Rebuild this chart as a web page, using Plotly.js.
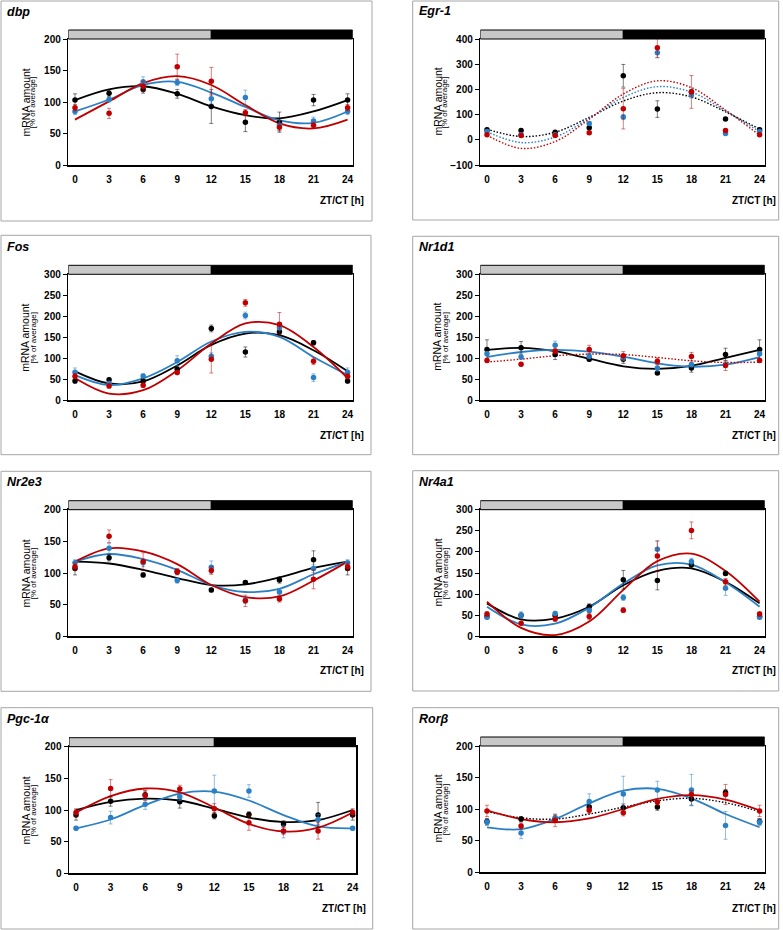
<!DOCTYPE html>
<html><head><meta charset="utf-8">
<script src="https://cdn.plot.ly/plotly-3.0.1.min.js"></script>
<style>html,body{margin:0;padding:0;background:#fff}#chart{width:783px;height:930px}</style>
</head><body><div id="chart"></div>
<script>
// ---------- DATA ----------
const hours = [0, 3, 6, 9, 12, 15, 18, 21, 24];
const hourLabels = ['0', '3', '6', '9', '12', '15', '18', '21', '24'];
const geneNames = ['dbp', 'Egr-1', 'Fos', 'Nr1d1', 'Nr2e3', 'Nr4a1', 'Pgc-1α', 'Rorβ'];

// dbp
const dbpBlack = [103, 114, 120, 113, 93, 68, 68, 103, 103];
const dbpBlackErr = [10, 5, 6, 7, 27, 15, 16, 9, 10];
const dbpBlackFit = [103, 120, 125, 113, 93, 79, 74, 85, 103];
const dbpBlue = [85, 104, 132, 131, 105, 107, 63, 70, 85];
const dbpBlueErr = [5, 4, 8, 5, 8, 12, 8, 6, 5];
const dbpBlueFit = [85, 104, 127, 132, 115, 92, 71, 67, 85];
const dbpRed = [91, 82, 125, 156, 133, 83, 60, 63, 91];
const dbpRedErr = [5, 8, 8, 20, 22, 5, 6, 4, 5];
const dbpRedFit = [72, 101, 130, 141, 127, 95, 66, 58, 72];

// Egr-1
const egrBlack = [40, 37, 30, 48, 254, 122, 190, 83, 40];
const egrBlackErr = [6, 5, 5, 6, 45, 33, 10, 5, 6];
const egrBlackFit = [42, 13, 30, 89, 154, 187, 170, 111, 42];
const egrBlue = [33, 20, 20, 65, 90, 345, 178, 25, 33];
const egrBlueErr = [5, 5, 5, 6, 10, 20, 12, 5, 5];
const egrBlueFit = [32, -11, 11, 85, 168, 211, 189, 115, 32];
const egrRed = [20, 17, 17, 28, 123, 365, 190, 37, 20];
const egrRedErr = [5, 5, 5, 5, 80, 38, 65, 6, 5];
const egrRedFit = [18, -34, -7, 82, 182, 234, 207, 118, 18];

// Fos
const fosBlack = [46, 49, 46, 74, 171, 115, 163, 137, 46];
const fosBlackErr = [5, 4, 5, 6, 8, 12, 6, 5, 5];
const fosBlackFit = [69, 40, 45, 83, 132, 159, 155, 119, 69];
const fosBlue = [67, 40, 58, 94, 105, 202, 173, 54, 67];
const fosBlueErr = [10, 5, 5, 12, 8, 8, 6, 9, 10];
const fosBlueFit = [60, 36, 52, 91, 140, 163, 151, 103, 60];
const fosRed = [57, 34, 36, 66, 98, 232, 181, 93, 57];
const fosRedErr = [6, 5, 5, 5, 33, 8, 28, 8, 6];
const fosRedFit = [53, 16, 24, 71, 135, 183, 179, 127, 53];

// Nr1d1
const nr1Black = [121, 125, 109, 98, 98, 65, 77, 109, 121];
const nr1BlackErr = [23, 15, 12, 5, 10, 3, 10, 15, 23];
const nr1BlackFit = [120, 125, 117, 99, 81, 75, 82, 101, 120];
const nr1Blue = [111, 103, 131, 105, 101, 77, 85, 85, 111];
const nr1BlueErr = [5, 5, 10, 6, 5, 8, 6, 6, 5];
const nr1BlueFit = [103, 115, 120, 116, 104, 88, 80, 85, 103];
const nr1Red = [95, 86, 117, 121, 106, 93, 104, 83, 95];
const nr1RedErr = [5, 4, 6, 10, 10, 8, 10, 12, 5];
const nr1RedFit = [91, 98, 106, 110, 109, 102, 94, 90, 91];

// Nr2e3
const nr2Black = [107, 124, 97, 102, 73, 85, 89, 121, 107];
const nr2BlackErr = [10, 5, 3, 4, 3, 3, 5, 14, 10];
const nr2BlackFit = [118, 115, 105, 92, 81, 82, 93, 108, 118];
const nr2Blue = [116, 139, 116, 88, 109, 57, 70, 107, 116];
const nr2BlueErr = [5, 8, 6, 4, 10, 5, 5, 6, 5];
const nr2BlueFit = [118, 130, 122, 105, 81, 70, 75, 98, 118];
const nr2Red = [110, 158, 118, 102, 104, 56, 59, 90, 110];
const nr2RedErr = [6, 10, 14, 5, 6, 9, 5, 15, 6];
const nr2RedFit = [118, 139, 134, 114, 81, 62, 63, 88, 118];

// Nr4a1
const nr4Black = [47, 50, 49, 70, 134, 132, 169, 149, 47];
const nr4BlackErr = [4, 5, 5, 7, 22, 22, 8, 5, 4];
const nr4BlackFit = [78, 40, 42, 70, 121, 155, 161, 129, 78];
const nr4Blue = [45, 50, 54, 61, 92, 206, 177, 114, 45];
const nr4BlueErr = [4, 8, 5, 6, 7, 20, 8, 17, 4];
const nr4BlueFit = [70, 28, 30, 68, 125, 168, 170, 128, 70];
const nr4Red = [53, 31, 41, 47, 62, 190, 251, 129, 53];
const nr4RedErr = [5, 4, 5, 8, 6, 36, 20, 8, 5];
const nr4RedFit = [82, 20, 3, 35, 110, 178, 196, 155, 82];

// Pgc-1a
const pgcBlack = [92, 114, 124, 113, 91, 93, 78, 92, 92];
const pgcBlackErr = [8, 8, 6, 10, 5, 4, 5, 20, 8];
const pgcBlackFit = [100, 113, 118, 115, 102, 88, 81, 84, 100];
const pgcBlue = [71, 88, 109, 121, 130, 130, 66, 85, 71];
const pgcBlueErr = [3, 10, 8, 6, 25, 10, 10, 8, 3];
const pgcBlueFit = [71, 85, 108, 126, 129, 115, 92, 74, 71];
const pgcRed = [96, 134, 123, 133, 102, 80, 67, 67, 96];
const pgcRedErr = [6, 14, 8, 6, 8, 12, 6, 13, 6];
const pgcRedFit = [96, 122, 134, 128, 104, 78, 66, 72, 96];

// Ror-beta
const rorBlack = [80, 84, 84, 103, 102, 103, 116, 126, 80];
const rorBlackErr = [5, 4, 5, 5, 6, 5, 10, 5, 5];
const rorBlackFit = [96, 86, 84, 92, 103, 113, 117, 110, 96];
const rorBlue = [79, 62, 86, 112, 124, 130, 130, 74, 79];
const rorBlueErr = [5, 9, 5, 12, 28, 14, 25, 22, 5];
const rorBlueFit = [71, 68, 84, 109, 129, 132, 117, 92, 71];
const rorRed = [97, 73, 82, 98, 94, 111, 123, 123, 97];
const rorRedErr = [9, 5, 10, 5, 5, 5, 6, 16, 9];
const rorRedFit = [98, 84, 79, 85, 100, 116, 122, 115, 98];

// ---------- STYLE / LAYOUT ----------
const W = 783, H = 930;
const COLORS = ['#000000', '#2b80c5', '#c00000'];
const ERRCOLORS = ['rgba(0,0,0,0.5)', 'rgba(43,128,197,0.5)', 'rgba(192,0,0,0.5)'];
const FONT = 'Liberation Sans, Arial, sans-serif';

const panels = [
  {series: [[dbpBlack, dbpBlackErr, dbpBlackFit], [dbpBlue, dbpBlueErr, dbpBlueFit], [dbpRed, dbpRedErr, dbpRedFit]],
   dash: ['solid', 'solid', 'solid'], yr: [0, 200], dt: 50,
   plot: [68.3, 352.7, 39, 165], xr: [-0.59, 24.45], box: [1, 1, 372, 221], title: [5, 12], ylab: [25.5, 33.3], zt: [366, 201]},
  {series: [[egrBlack, egrBlackErr, egrBlackFit], [egrBlue, egrBlueErr, egrBlueFit], [egrRed, egrRedErr, egrRedFit]],
   dash: ['dot', 'dot', 'dot'], yr: [-100, 400], dt: 100,
   plot: [480.3, 764.7, 39, 165], xr: [-0.59, 24.45], box: [412.7, 1, 778.7, 220], title: [417, 11], ylab: [437.5, 445.3], zt: [777.5, 201]},
  {series: [[fosBlack, fosBlackErr, fosBlackFit], [fosBlue, fosBlueErr, fosBlueFit], [fosRed, fosRedErr, fosRedFit]],
   dash: ['solid', 'solid', 'solid'], yr: [0, 300], dt: 50,
   plot: [68.3, 352.7, 274.3, 400.3], xr: [-0.59, 24.45], box: [1, 235.3, 371, 454.7], title: [5, 247], ylab: [25.5, 33.3], zt: [366, 436]},
  {series: [[nr1Black, nr1BlackErr, nr1BlackFit], [nr1Blue, nr1BlueErr, nr1BlueFit], [nr1Red, nr1RedErr, nr1RedFit]],
   dash: ['solid', 'solid', 'dot'], yr: [0, 300], dt: 50,
   plot: [480.3, 764.7, 274.3, 400.3], xr: [-0.59, 24.45], box: [412.7, 236.3, 778.7, 454.7], title: [417, 247], ylab: [437.5, 445.3], zt: [777.5, 436]},
  {series: [[nr2Black, nr2BlackErr, nr2BlackFit], [nr2Blue, nr2BlueErr, nr2BlueFit], [nr2Red, nr2RedErr, nr2RedFit]],
   dash: ['solid', 'solid', 'solid'], yr: [0, 200], dt: 50,
   plot: [68.3, 352.7, 509.7, 636.3], xr: [-0.59, 24.45], box: [1, 471.3, 371, 691.3], title: [5, 482], ylab: [25.5, 33.3], zt: [366, 670.7]},
  {series: [[nr4Black, nr4BlackErr, nr4BlackFit], [nr4Blue, nr4BlueErr, nr4BlueFit], [nr4Red, nr4RedErr, nr4RedFit]],
   dash: ['solid', 'solid', 'solid'], yr: [0, 300], dt: 50,
   plot: [480.3, 764.7, 509.7, 636.3], xr: [-0.59, 24.45], box: [412.7, 470.7, 778.7, 691], title: [417, 482], ylab: [437.5, 445.3], zt: [777.5, 670.7]},
  {series: [[pgcBlack, pgcBlackErr, pgcBlackFit], [pgcBlue, pgcBlueErr, pgcBlueFit], [pgcRed, pgcRedErr, pgcRedFit]],
   dash: ['solid', 'solid', 'solid'], yr: [0, 200], dt: 50,
   plot: [69, 356, 746.7, 873.3], xr: [-0.61, 24.29], box: [1, 707.7, 372.7, 929], title: [5, 719], ylab: [25.5, 33.3], zt: [368, 908]},
  {series: [[rorBlack, rorBlackErr, rorBlackFit], [rorBlue, rorBlueErr, rorBlueFit], [rorRed, rorRedErr, rorRedFit]],
   dash: ['dot', 'solid', 'solid'], yr: [0, 200], dt: 50,
   plot: [480.3, 764.7, 746, 872], xr: [-0.59, 24.45], box: [412.7, 707.7, 778.7, 929], title: [417, 719], ylab: [437.5, 445.3], zt: [777.5, 908]}
];

const px = v => v / W;
const py = v => 1 - v / H;

const traces = [];
const layout = {
  width: W, height: H, margin: {l: 0, r: 0, t: 0, b: 0},
  paper_bgcolor: '#ffffff', plot_bgcolor: '#ffffff', showlegend: false,
  font: {family: FONT, color: '#000'},
  shapes: [], annotations: []
};

panels.forEach((p, i) => {
  const s = i === 0 ? '' : String(i + 1);
  const xa = 'x' + s, ya = 'y' + s;
  p.series.forEach((ser, k) => {
    const dotted = p.dash[k] === 'dot';
    traces.push({
      x: hours, y: ser[2], xaxis: xa, yaxis: ya, mode: 'lines', hoverinfo: 'skip',
      line: {color: COLORS[k], width: dotted ? 1.4 : 1.8, dash: dotted ? '1.5px,1.8px' : 'solid', shape: 'spline', smoothing: 1}
    });
  });
  p.series.forEach((ser, k) => {
    traces.push({
      x: hours, y: ser[0], xaxis: xa, yaxis: ya, mode: 'markers',
      marker: {color: COLORS[k], size: 5.5},
      error_y: {type: 'data', array: ser[1], visible: true, color: ERRCOLORS[k], thickness: 1, width: 2}
    });
  });

  layout['xaxis' + s] = {
    domain: [px(p.plot[0]), px(p.plot[1])], range: p.xr, anchor: ya,
    tickmode: 'array', tickvals: hours, ticktext: hourLabels, ticks: '',
    ticklabelstandoff: 4,
    showline: true, linecolor: '#000', linewidth: 1.5, mirror: true,
    showgrid: false, zeroline: false, fixedrange: true,
    tickfont: {family: FONT, size: 10, color: '#000', weight: 'bold'}
  };
  layout['yaxis' + s] = {
    domain: [py(p.plot[3]), py(p.plot[2])], range: p.yr, anchor: xa,
    tick0: p.yr[0], dtick: p.dt, ticks: 'outside', ticklen: 4, tickwidth: 1, tickcolor: '#000',
    showline: true, linecolor: '#000', linewidth: 1.5, mirror: true,
    showgrid: false, zeroline: false, fixedrange: true,
    tickfont: {family: FONT, size: 10, color: '#000', weight: 'bold'}
  };

  const barTop = py(p.plot[2] - 9), barBot = py(p.plot[2]);
  layout.shapes.push({type: 'rect', xref: xa, yref: 'paper', x0: p.xr[0], x1: 12, y0: barBot, y1: barTop,
    fillcolor: '#c8c8c8', line: {color: '#000', width: 1}});
  layout.shapes.push({type: 'rect', xref: xa, yref: 'paper', x0: 12, x1: p.xr[1], y0: barBot, y1: barTop,
    fillcolor: '#000', line: {color: '#000', width: 1}});
  layout.shapes.push({type: 'rect', xref: 'paper', yref: 'paper', x0: px(p.box[0]), x1: px(p.box[2]),
    y0: py(p.box[3]), y1: py(p.box[1]), fillcolor: 'rgba(0,0,0,0)', line: {color: '#a6a6a6', width: 1}});

  const yc = py((p.plot[2] + p.plot[3]) / 2);
  layout.annotations.push(
    {text: '<b><i>' + geneNames[i] + '</i></b>', x: px(p.title[0]), y: py(p.title[1]), xref: 'paper', yref: 'paper',
     xanchor: 'left', yanchor: 'middle', showarrow: false, font: {family: FONT, size: 12.5, color: '#000'}},
    {text: 'mRNA amount', x: px(p.ylab[0]), y: yc, xref: 'paper', yref: 'paper', textangle: -90,
     xanchor: 'center', yanchor: 'middle', showarrow: false, font: {family: FONT, size: 10.5, color: '#000'}},
    {text: '[% of average]', x: px(p.ylab[1]), y: yc, xref: 'paper', yref: 'paper', textangle: -90,
     xanchor: 'center', yanchor: 'middle', showarrow: false, font: {family: FONT, size: 8, color: '#000'}},
    {text: '<b>ZT/CT [h]</b>', x: px(p.zt[0]), y: py(p.zt[1]), xref: 'paper', yref: 'paper',
     xanchor: 'right', yanchor: 'middle', showarrow: false, font: {family: FONT, size: 10, color: '#000'}}
  );
});

Plotly.newPlot('chart', traces, layout, {staticPlot: true, displayModeBar: false});
</script>
</body></html>
